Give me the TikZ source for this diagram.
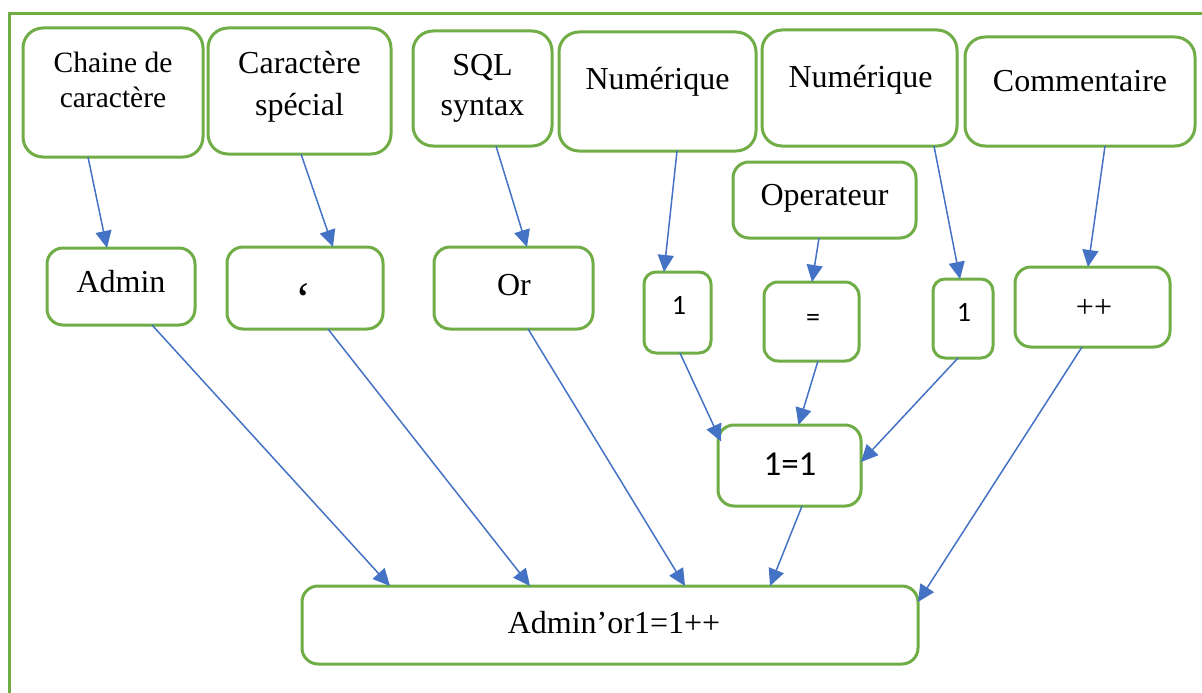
\documentclass[tikz,border=0pt]{standalone}
\usepackage{fontspec}
\setmainfont{Liberation Serif}
\newfontfamily\calib{Carlito}
\usetikzlibrary{arrows.meta}
\definecolor{leafgreen}{HTML}{70AD47}
\definecolor{arrowblue}{HTML}{4472C4}
\tikzset{
  box/.style={draw=leafgreen, line width=3pt, rounded corners=#1, inner sep=0pt, outer sep=0pt},
  box/.default=20pt,
  lbl/.style={anchor=base, inner sep=0pt, font=\fontsize{32}{36}\selectfont},
  smalllbl/.style={anchor=base, inner sep=0pt, font=\fontsize{29.5}{34}\selectfont},
  num/.style={anchor=base, inner sep=0pt, font=\calib\fontsize{28}{30}\selectfont},
  bignum/.style={anchor=base, inner sep=0pt, font=\calib\fontsize{35}{40}\selectfont},
  flow/.style={draw=arrowblue, line width=1.5pt, -{Triangle[length=17pt,width=16pt]}},
}
\begin{document}
\begin{tikzpicture}[x=1pt,y=-1pt]
\useasboundingbox (0,0) rectangle (1202,693);
% outer frame
\draw[leafgreen, line width=3pt] (1202,14) -- (9,14) -- (9,693);

% top row: token categories
\node[box, minimum width=180pt, minimum height=129pt] (chaine) at (113,92.5) {};
\node[box, minimum width=183pt, minimum height=126pt] (special) at (299.5,91) {};
\node[box, minimum width=139pt, minimum height=115pt] (sql) at (482.5,88.5) {};
\node[box, minimum width=197pt, minimum height=119pt] (numA) at (657.5,91.5) {};
\node[box, minimum width=195pt, minimum height=116pt] (numB) at (859.5,88) {};
\node[box, minimum width=230pt, minimum height=109pt] (comm) at (1080,91.5) {};
\node[box=16pt, minimum width=183pt, minimum height=76pt] (oper) at (824.5,200) {};

\node[smalllbl] (tChaineA) at (113,73) {Chaine de};
\node[smalllbl] (tChaineB) at (113,107) {caractère};
\node[lbl] (tSpecialA) at (299.5,74) {Caractère};
\node[lbl] (tSpecialB) at (299.5,115) {spécial};
\node[lbl] (tSqlA) at (482.5,75) {SQL};
\node[lbl] (tSqlB) at (482.5,115) {syntax};
\node[lbl] (tNumA) at (657.5,89) {Numérique};
\node[lbl] (tNumB) at (860.5,88) {Numérique};
\node[lbl] (tComm) at (1080,92) {Commentaire};
\node[lbl] (tOper) at (824.5,205) {Operateur};

% second row: token values
\node[box=16pt, minimum width=148pt, minimum height=77pt] (admin) at (121,286.5) {};
\node[box=16pt, minimum width=156pt, minimum height=82pt] (quote) at (305,288) {};
\node[box=16pt, minimum width=159pt, minimum height=82pt] (orw) at (513.5,288) {};
\node[box=12pt, minimum width=67pt, minimum height=81pt] (oneA) at (677.5,312.5) {};
\node[box=14pt, minimum width=95pt, minimum height=79pt] (eq) at (811.5,321.5) {};
\node[box=12pt, minimum width=60pt, minimum height=79pt] (oneB) at (963,318.5) {};
\node[box=16pt, minimum width=155pt, minimum height=80pt] (pp) at (1092.5,307) {};

\node[lbl] (tAdmin) at (121,292) {Admin};
\node[lbl, font=\fontsize{48}{52}\selectfont] (tQuote) at (303,315) {‘};
\node[lbl] (tOr) at (514,295) {Or};
\node[num] (tOneA) at (679,314) {1};
\node[num] (tEq) at (813,326) {=};
\node[num] (tOneB) at (964,321) {1};
\node[lbl] (tPp) at (1094,317) {++};

% combined condition and final payload
\node[box=16pt, minimum width=143pt, minimum height=81pt] (oneeq) at (789.5,465.5) {};
\node[bignum] (tOneEq) at (790,475) {1=1};
\node[box=16pt, minimum width=616pt, minimum height=78pt] (final) at (610,625) {};
\node[lbl] (tFinal) at (614,633) {Admin’or1=1++};

% connectors
\draw[flow] ([xshift=-25pt]chaine.south) -- ([xshift=-14pt]admin.north);
\draw[flow] ([xshift=1.5pt]special.south) -- ([xshift=28pt]quote.north);
\draw[flow] ([xshift=13.5pt]sql.south) -- ([xshift=13.5pt]orw.north);
\draw[flow] ([xshift=19.5pt]numA.south) -- ([xshift=-13.5pt]oneA.north);
\draw[flow] ([xshift=-5.5pt]oper.south) -- ([xshift=0.5pt]eq.north);
\draw[flow] ([xshift=74.5pt]numB.south) -- ([xshift=-3pt]oneB.north);
\draw[flow] ([xshift=25pt]comm.south) -- ([xshift=-4.5pt]pp.north);

\draw[flow] ([xshift=2.5pt]oneA.south) -- ([xshift=3pt,yshift=24pt]oneeq.west);
\draw[flow] ([xshift=6.5pt]eq.south) -- ([xshift=9pt]oneeq.north);
\draw[flow] ([xshift=-5pt]oneB.south) -- ([yshift=3.5pt]oneeq.east);

\draw[flow] ([xshift=31pt]admin.south) -- ([xshift=-220pt]final.north);
\draw[flow] ([xshift=23pt]quote.south) -- ([xshift=-80pt]final.north);
\draw[flow] ([xshift=14.5pt]orw.south) -- ([xshift=75pt]final.north);
\draw[flow] ([xshift=12.5pt]oneeq.south) -- ([xshift=160pt]final.north);
\draw[flow] ([xshift=-10.5pt]pp.south) -- ([yshift=23pt]final.east);
\end{tikzpicture}
\end{document}
